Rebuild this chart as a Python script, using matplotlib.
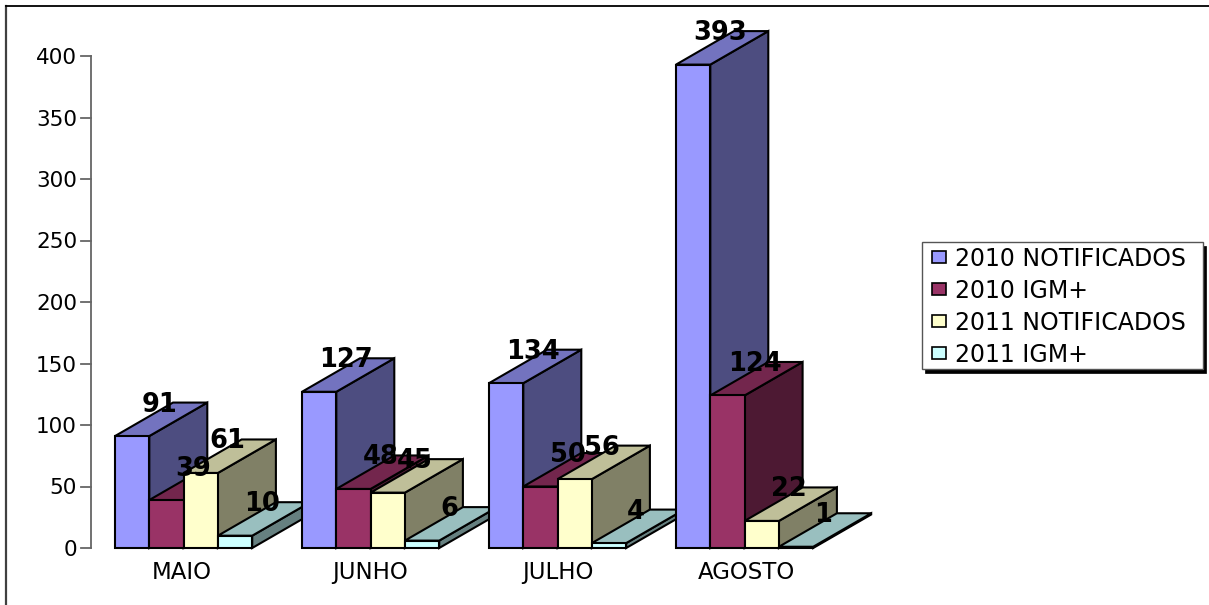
import matplotlib
matplotlib.use("Agg")
import matplotlib.pyplot as plt
from matplotlib.patches import Polygon, Rectangle

plt.rcParams['font.family'] = ['DejaVu Sans']

months = ["MAIO", "JUNHO", "JULHO", "AGOSTO"]
series_names = ["2010 NOTIFICADOS", "2010 IGM+", "2011 NOTIFICADOS", "2011 IGM+"]
not_2010 = [91, 127, 134, 393]
igm_2010 = [39, 48, 50, 124]
not_2011 = [61, 45, 56, 22]
igm_2011 = [10, 6, 4, 1]
y_ticks = [0, 50, 100, 150, 200, 250, 300, 350, 400]

# front, top, side colours per series
colors = [("#9999ff", "#7373bf", "#4d4d80"),
          ("#993366", "#73264d", "#4d1933"),
          ("#ffffcc", "#bfbf99", "#808066"),
          ("#ccffff", "#99bfbf", "#668080")]
values = [not_2010, igm_2010, not_2011, igm_2011]

W, H = 1209, 605
fig = plt.figure(figsize=(W / 100, H / 100), dpi=100)
ax = fig.add_axes([0, 0, 1, 1])

# one x unit is one category, y unit is the value scale
px_x = 1 / 187
px_y = 400 / 492
ax.set_xlim(-91 * px_x, (W - 91) * px_x)
ax.set_ylim(-(H - 548) * px_y, 548 * px_y)
ax.axis("off")

bar_w = 34.3 * px_x
dep_x = 58 * px_x
dep_y = 33.5 * px_y
start = 24 * px_x
y_top = ax.get_ylim()[1]
y_bot = ax.get_ylim()[0]

# outer frame, only left and top are visible
frame_x = -85 * px_x
ax.plot([frame_x, frame_x], [y_bot, y_top - 6 * px_y], color="#404040", lw=1.6, zorder=1)
ax.plot([frame_x, ax.get_xlim()[1]], [y_top - 5.5 * px_y] * 2, color="black", lw=1.3, zorder=1)

# value axis
ax.plot([0, 0], [0, 400], color="#666666", lw=1.3, zorder=1)
for t in y_ticks:
    ax.plot([-10 * px_x, 0], [t, t], color="#666666", lw=1.3, zorder=1)
    ax.text(-14 * px_x, t, str(t), ha="right", va="center_baseline", fontsize=15.5, color="black")

z = 2
for i, m in enumerate(months):
    for j, vals in enumerate(values):
        v = vals[i]
        x0 = i + start + j * bar_w
        x1 = x0 + bar_w
        front, top, side = colors[j]
        ax.add_patch(Polygon([(x1, 0), (x1 + dep_x, dep_y), (x1 + dep_x, v + dep_y), (x1, v)],
                             fc=side, ec="black", lw=1.5, zorder=z, joinstyle="miter"))
        ax.add_patch(Polygon([(x0, v), (x1, v), (x1 + dep_x, v + dep_y), (x0 + dep_x, v + dep_y)],
                             fc=top, ec="black", lw=1.5, zorder=z, joinstyle="miter"))
        ax.add_patch(Rectangle((x0, 0), bar_w, v, fc=front, ec="black", lw=1.5, zorder=z))
        z += 1
        ax.text(x0 + bar_w / 2 + 27 * px_x, v + dep_y + 1 * px_y, str(v), ha="center", va="center_baseline",
                fontsize=18.5, fontweight="bold", color="black", zorder=100)
    ax.text((i * 188 + 91) * px_x, -22 * px_y, m, ha="center", va="center_baseline", fontsize=16.5, color="black")

# legend with hard shadow
lx0, lx1 = 831 * px_x, 1112 * px_x
ly_top, ly_bot = (548 - 242) * px_y, (548 - 369) * px_y
ax.add_patch(Rectangle((lx0 + 3 * px_x, ly_bot - 4 * px_y), lx1 - lx0, ly_top - ly_bot,
                       fc="black", ec="black", lw=0.5, zorder=200))
ax.add_patch(Rectangle((lx0, ly_bot), lx1 - lx0, ly_top - ly_bot,
                       fc="white", ec="#555555", lw=1, zorder=201))
for j, name in enumerate(series_names):
    yc = (548 - (257 + j * 32)) * px_y
    ax.add_patch(Rectangle((841 * px_x, yc - 6 * px_y), 14 * px_x, 12 * px_y,
                           fc=colors[j][0], ec="black", lw=1.2, zorder=202))
    ax.text(864 * px_x, yc + 1 * px_y, name, ha="left", va="center_baseline", fontsize=17, color="black", zorder=202)

fig.savefig("out.png", dpi=100)
